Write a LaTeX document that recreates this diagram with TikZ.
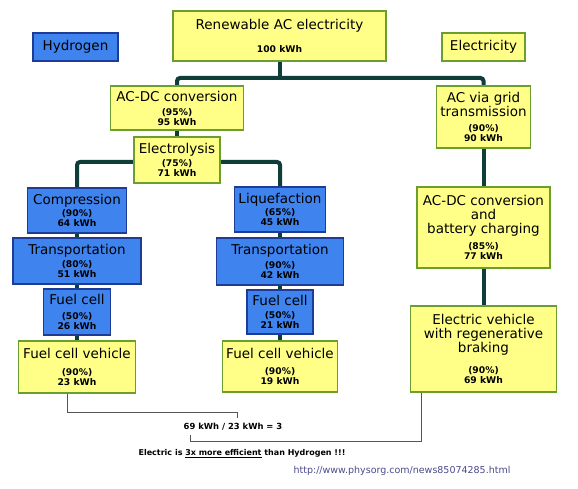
\documentclass[tikz,border=0pt]{standalone}
\usepackage{fontspec}
\setmainfont{DejaVu Sans}
\usetikzlibrary{backgrounds}
\definecolor{yfill}{HTML}{FFFF88}
\definecolor{ydraw}{HTML}{6B9E2F}
\definecolor{bfill}{HTML}{3F83EE}
\definecolor{bdraw}{HTML}{1E3C96}
\definecolor{pipec}{HTML}{0E3D3A}
\definecolor{thinc}{HTML}{555555}
\definecolor{urlc}{HTML}{4B4B8C}
\newcommand{\pctfont}{\fontsize{9.2}{10}\selectfont\bfseries}
\newcommand{\pk}[2]{{\pctfont #1}\\[-4pt]{\pctfont #2}}
\tikzset{
  box/.style={draw, line width=1.3pt, inner sep=0pt, align=center,
    font=\fontsize{13.5}{14}\selectfont, text=black},
  ybox/.style={box, fill=yfill, draw=ydraw},
  bbox/.style={box, fill=bfill, draw=bdraw},
  pipe/.style={line width=4pt, draw=pipec, rounded corners=3pt},
  thinline/.style={line width=1pt, draw=thinc},
  ratiotext/.style={font=\fontsize{8.4}{10}\selectfont\bfseries, inner sep=0pt},
  urltext/.style={font=\fontsize{9.5}{11}\selectfont, text=urlc, inner sep=0pt},
}
\begin{document}
\begin{tikzpicture}[x=1pt,y=-1pt]
\useasboundingbox (0,0) rectangle (578,489);

% boxes
\node[ybox, minimum width=213, minimum height=50] (top) at (279.5,36)
  {Renewable AC electricity\\[9.4pt]{\pctfont 100 kWh}};
\node[bbox, minimum width=85, minimum height=28] (hyd) at (75.5,47) {Hydrogen};
\node[ybox, minimum width=83, minimum height=28] (ele) at (483.5,47) {Electricity};

\node[ybox, minimum width=133, minimum height=44] (acdc) at (177,108)
  {AC-DC conversion\\[0pt]\pk{(95\%)}{95 kWh}};
\node[ybox, minimum width=94, minimum height=62] (grid) at (483.5,117)
  {AC via grid\\transmission\\[0.4pt]\pk{(90\%)}{90 kWh}};
\node[ybox, minimum width=86, minimum height=46] (elys) at (177,160)
  {Electrolysis\\[-0.6pt]\pk{(75\%)}{71 kWh}};

% left column
\node[bbox, minimum width=99, minimum height=45] (comp) at (77,210.5)
  {Compression\\[-1.6pt]\pk{(90\%)}{64 kWh}};
\node[bbox, minimum width=128, minimum height=46] (transL) at (77,261)
  {Transportation\\[-0.6pt]\pk{(80\%)}{51 kWh}};
\node[bbox, minimum width=67, minimum height=46] (fcL) at (77,312)
  {Fuel cell\\[0.4pt]\pk{(50\%)}{26 kWh}};
\node[ybox, minimum width=117, minimum height=52] (fcvL) at (77,367)
  {Fuel cell vehicle\\[2.4pt]\pk{(90\%)}{23 kWh}};

% middle column
\node[bbox, minimum width=91, minimum height=45] (liq) at (280,209.5)
  {Liquefaction\\[-2.6pt]\pk{(65\%)}{45 kWh}};
\node[bbox, minimum width=127, minimum height=47] (transM) at (280,261.5)
  {Transportation\\[0.4pt]\pk{(90\%)}{42 kWh}};
\node[bbox, minimum width=66, minimum height=44] (fcM) at (280,312)
  {Fuel cell\\[-0.6pt]\pk{(50\%)}{21 kWh}};
\node[ybox, minimum width=115, minimum height=51] (fcvM) at (280,366.5)
  {Fuel cell vehicle\\[2.4pt]\pk{(90\%)}{19 kWh}};

% right column
\node[ybox, minimum width=133, minimum height=81] (batt) at (483.5,227.5)
  {AC-DC conversion\\and\\battery charging\\[2.4pt]\pk{(85\%)}{77 kWh}};
\node[ybox, minimum width=146, minimum height=86] (ev) at (483.5,349)
  {Electric vehicle\\with regenerative\\braking\\[7.4pt]\pk{(90\%)}{69 kWh}};

% pipes
\coordinate (j1) at (279.5,78);
\coordinate (j2) at (177,162);
\begin{scope}[on background layer]
\fill[white] (0,0) rectangle (578,489);
\draw[pipe] (top.south) -- (j1);
\draw[pipe] (acdc.north) |- (j1) -| (grid.north);
\draw[pipe] (acdc.south) -- (elys.north);
\draw[pipe] (comp.north) |- (j2) -| (liq.north);
\draw[pipe] (comp.south) -- (transL.north);
\draw[pipe] (transL.south) -- (fcL.north);
\draw[pipe] (fcL.south) -- (fcvL.north);
\draw[pipe] (liq.south) -- (transM.north);
\draw[pipe] (transM.south) -- (fcM.north);
\draw[pipe] (fcM.south) -- (fcvM.north);
\draw[pipe] (grid.south) -- (batt.north);
\draw[pipe] (batt.south) -- (ev.north);
\end{scope}

% bottom comparison
\node[ratiotext] (ratio) at (233,427) {69 kWh / 23 kWh = 3};
\coordinate (r1) at (237,412);
\coordinate (r1e) at (237,418);
\coordinate (r2) at (190,441);
\coordinate (r2e) at (190,435);
\draw[thinline] ([xshift=-10pt]fcvL.south) |- (r1) -- (r1e);
\draw[thinline] ([xshift=-62.5pt]ev.south) |- (r2) -- (r2e);

\node[ratiotext, font=\fontsize{8}{9}\selectfont\bfseries] (concl) at (242,454)
  {Electric is \underline{3x more efficient} than Hydrogen !!!};
\node[urltext] (url) at (402,471) {http://www.physorg.com/news85074285.html};
\end{tikzpicture}
\end{document}
